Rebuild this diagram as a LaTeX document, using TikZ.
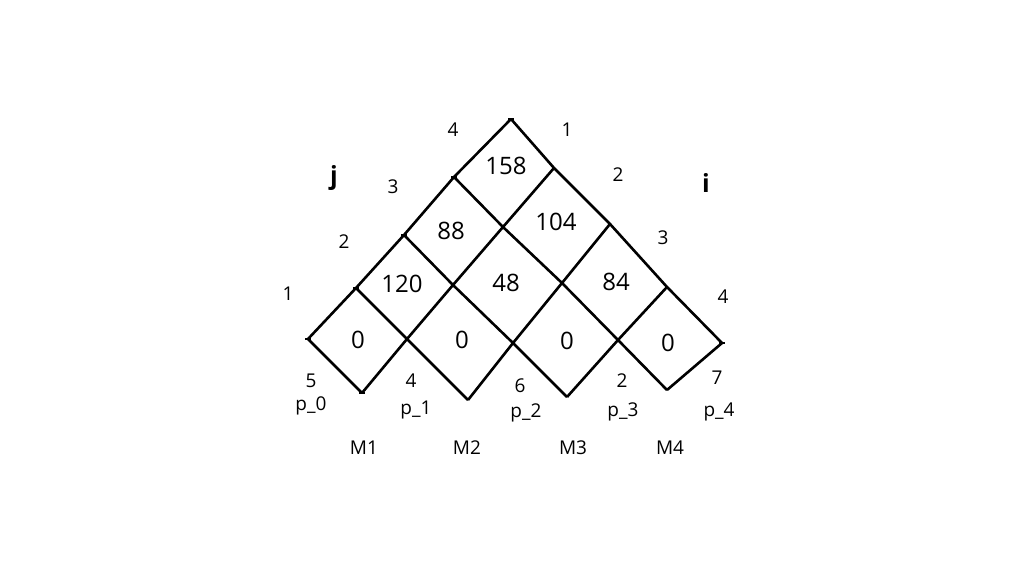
\documentclass[tikz,border=0pt]{standalone}
\usepackage{fontspec}
\setmainfont{Open Sans}
\begin{document}
\begin{tikzpicture}[x=1pt,y=-1pt,
  grid/.style={line width=2.6pt,line join=miter,black},
  lab/.style={font=\fontsize{19}{21}\selectfont,inner sep=0pt},
  cell/.style={font=\fontsize{24}{26}\selectfont,inner sep=0pt},
  axis/.style={font=\fontsize{25}{27}\selectfont\bfseries,inner sep=0pt}]
\useasboundingbox[fill=white] (0,0) rectangle (1024,576);
% vertices
\coordinate (A) at (511,119);
\coordinate (R1) at (554,168);
\coordinate (R2) at (610,224);
\coordinate (R3) at (667,287);
\coordinate (RC) at (722,343);
\coordinate (L1) at (454,177);
\coordinate (L2) at (404,235);
\coordinate (L3) at (356,288);
\coordinate (LC) at (308,339);
\coordinate (C1) at (503,227);
\coordinate (C2) at (562,283);
\coordinate (C3) at (618,340);
\coordinate (C4) at (453,285);
\coordinate (C5) at (513,343);
\coordinate (C6) at (407,339);
\coordinate (B1) at (362,393);
\coordinate (B2) at (468,400);
\coordinate (B3) at (567,397);
\coordinate (B4) at (667,390);
% down-right lines
\draw[grid] (A) -- (R1) -- (R2) -- (R3) -- (RC);
\draw[grid] (L1) -- (C1) -- (C2) -- (C3) -- (B4);
\draw[grid] (L2) -- (C4) -- (C5) -- (B3);
\draw[grid] (L3) -- (C6) -- (B2);
\draw[grid] (LC) -- (B1);
% down-left lines
\draw[grid] (A) -- (L1) -- (L2) -- (L3) -- (LC);
\draw[grid] (R1) -- (C1) -- (C4) -- (C6) -- (B1);
\draw[grid] (R2) -- (C2) -- (C5) -- (B2);
\draw[grid] (R3) -- (C3) -- (B3);
\draw[grid] (RC) -- (B4);
% small ticks
\foreach \p in {A,L1,L2,L3,LC,RC,B1}
  \draw[line width=1.6pt] ([xshift=-3pt]\p) -- ([xshift=3pt]\p);
% cell values
\node[cell] (v158) at (506,166) {158};
\node[cell] (v88) at (451,231) {88};
\node[cell] (v104) at (556,222) {104};
\node[cell] (v120) at (402,284) {120};
\node[cell] (v48) at (506,283) {48};
\node[cell] (v84) at (616,282) {84};
\node[cell] (z1) at (358,340) {0};
\node[cell] (z2) at (462,340) {0};
\node[cell] (z3) at (567,341) {0};
\node[cell] (z4) at (668,343) {0};
% axis labels
\node[axis] (j) at (334,178) {j};
\node[axis] (i) at (706,183) {i};
% edge labels
\node[lab] (l4) at (453,130) {4};
\node[lab] (l3) at (393,187) {3};
\node[lab] (l2) at (344,242) {2};
\node[lab] (l1) at (288,294) {1};
\node[lab] (r1) at (567,130) {1};
\node[lab] (r2) at (618,175) {2};
\node[lab] (r3) at (663,238) {3};
\node[lab] (r4) at (723,297) {4};
% bottom labels
\node[lab] (d0) at (311,381) {5};
\node[lab] (p0) at (311,406) {p\_0};
\node[lab] (d1) at (411,381) {4};
\node[lab] (p1) at (416,410) {p\_1};
\node[lab] (d2) at (520,386) {6};
\node[lab] (p2) at (526,413) {p\_2};
\node[lab] (d3) at (622,381) {2};
\node[lab] (p3) at (623,412) {p\_3};
\node[lab] (d4) at (717,378) {7};
\node[lab] (p4) at (719,412) {p\_4};
\node[lab] (m1) at (364,448) {M1};
\node[lab] (m2) at (467,448) {M2};
\node[lab] (m3) at (573,448) {M3};
\node[lab] (m4) at (670,448) {M4};
\end{tikzpicture}
\end{document}
